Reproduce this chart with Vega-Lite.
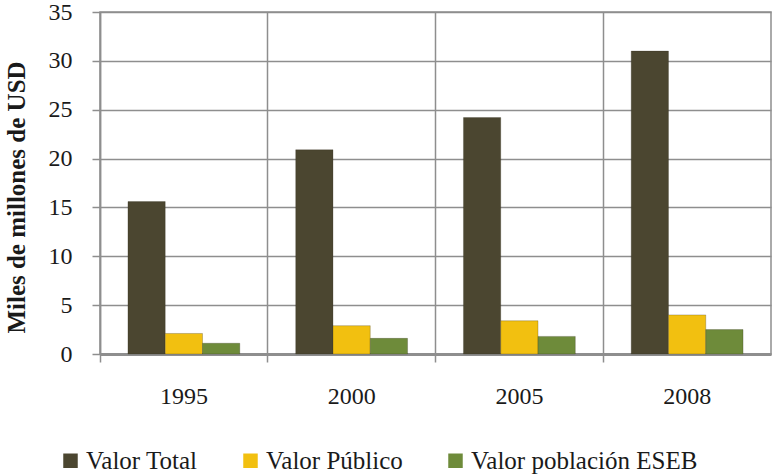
{
  "$schema": "https://vega.github.io/schema/vega-lite/v6.json",
  "autosize": "none",
  "width": 671,
  "height": 342,
  "padding": {"left": 100, "top": 12, "right": 1, "bottom": 122},
  "background": "white",
  "config": {
    "view": {"stroke": "#8e8e8e", "strokeWidth": 1.5},
    "font": "Times New Roman"
  },
  "data": {
    "values": [
      {"year": "1995", "serie": "Valor Total", "value": 15.6},
      {"year": "1995", "serie": "Valor Público", "value": 2.1},
      {"year": "1995", "serie": "Valor población ESEB", "value": 1.1},
      {"year": "2000", "serie": "Valor Total", "value": 20.9},
      {"year": "2000", "serie": "Valor Público", "value": 2.9},
      {"year": "2000", "serie": "Valor población ESEB", "value": 1.6},
      {"year": "2005", "serie": "Valor Total", "value": 24.2},
      {"year": "2005", "serie": "Valor Público", "value": 3.4},
      {"year": "2005", "serie": "Valor población ESEB", "value": 1.8},
      {"year": "2008", "serie": "Valor Total", "value": 31.0},
      {"year": "2008", "serie": "Valor Público", "value": 4.0},
      {"year": "2008", "serie": "Valor población ESEB", "value": 2.5}
    ]
  },
  "mark": {"type": "bar", "stroke": "#2a2818", "strokeWidth": 0.5, "strokeOpacity": 0.5},
  "encoding": {
    "x": {
      "field": "year",
      "type": "nominal",
      "scale": {"paddingInner": 0, "paddingOuter": 0},
      "axis": {
        "title": null,
        "labelAngle": 0,
        "bandPosition": 0,
        "grid": true,
        "gridColor": "#8e8e8e",
        "gridWidth": 1.5,
        "tickSize": 8,
        "tickColor": "#8e8e8e",
        "tickWidth": 1.5,
        "domainColor": "#8e8e8e",
        "domainWidth": 3,
        "labelFont": "Times New Roman",
        "labelFontSize": 24,
        "labelColor": "#1a1a1a",
        "labelPadding": 22
      }
    },
    "xOffset": {
      "field": "serie",
      "type": "nominal",
      "scale": {"domain": ["Valor Total", "Valor Público", "Valor población ESEB"], "paddingInner": 0, "paddingOuter": 0.75}
    },
    "y": {
      "field": "value",
      "type": "quantitative",
      "scale": {"domain": [0, 35], "nice": false},
      "axis": {
        "values": [0, 5, 10, 15, 20, 25, 30, 35],
        "title": "Miles de millones de USD",
        "titleFont": "Times New Roman",
        "titleFontSize": 25,
        "titleFontWeight": "bold",
        "titleColor": "#1a1a1a",
        "titleAngle": -90,
        "titleX": -84,
        "titleY": 185,
        "titleAlign": "center",
        "titleBaseline": "middle",
        "grid": true,
        "gridColor": "#8e8e8e",
        "gridWidth": 1.5,
        "tickSize": 8,
        "tickColor": "#8e8e8e",
        "tickWidth": 1.5,
        "domainColor": "#8e8e8e",
        "domainWidth": 1.5,
        "labelFont": "Times New Roman",
        "labelFontSize": 24,
        "labelColor": "#1a1a1a",
        "labelPadding": 20
      }
    },
    "color": {
      "field": "serie",
      "type": "nominal",
      "scale": {
        "domain": ["Valor Total", "Valor Público", "Valor población ESEB"],
        "range": ["#4b4630", "#f2c010", "#6e8b3a"]
      },
      "legend": {
        "title": null,
        "orient": "none",
        "direction": "horizontal",
        "legendX": -42,
        "legendY": 436,
        "symbolType": "square",
        "symbolSize": 210,
        "symbolStrokeWidth": 0,
        "labelFont": "Times New Roman",
        "labelFontSize": 25,
        "labelColor": "#1a1a1a",
        "labelOffset": 3,
        "columnPadding": 40,
        "labelLimit": 400
      }
    }
  }
}
